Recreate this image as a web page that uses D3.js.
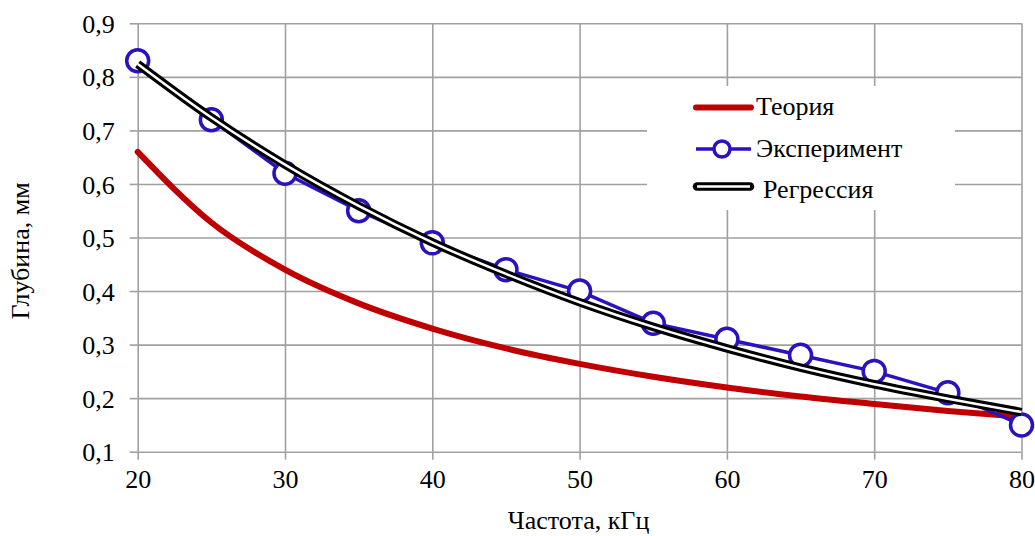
<!DOCTYPE html>
<html>
<head>
<meta charset="utf-8">
<script src="https://cdn.jsdelivr.net/npm/d3@7"></script>
<style>
  html, body { margin: 0; padding: 0; background: #fff; }
  svg { display: block; }
  text { font-family: "Liberation Serif", "Times New Roman", serif; fill: #000; }
</style>
</head>
<body>
<svg id="chart" width="1035" height="536"></svg>
<script>
// Frequency, kHz
const frequency = [20, 25, 30, 35, 40, 45, 50, 55, 60, 65, 70, 75, 80];
// Depth, mm
const theory     = [0.66, 0.528, 0.44, 0.377, 0.33, 0.293, 0.264, 0.24, 0.22, 0.203, 0.189, 0.176, 0.165];
const experiment = [0.83, 0.72, 0.62, 0.55, 0.49, 0.44, 0.40, 0.34, 0.31, 0.28, 0.25, 0.21, 0.15];
const regression = [0.824, 0.724, 0.636, 0.559, 0.491, 0.432, 0.379, 0.333, 0.293, 0.257, 0.226, 0.199, 0.174];

const xTicks = [20, 30, 40, 50, 60, 70, 80];
const yTicks = [0.1, 0.2, 0.3, 0.4, 0.5, 0.6, 0.7, 0.8, 0.9];
const yTickLabels = ["0,1", "0,2", "0,3", "0,4", "0,5", "0,6", "0,7", "0,8", "0,9"];

const seriesNames = ["Теория", "Эксперимент", "Регрессия"];
const xTitle = "Частота, кГц";
const yTitle = "Глубина, мм";

const serif = '"Liberation Serif", "Times New Roman", serif';
const svg = d3.select("#chart");
const plotLeft = 137.7, plotRight = 1021.5, plotTop = 23.3, plotBottom = 451.7;

const x = d3.scaleLinear().domain([20, 80]).range([plotLeft, plotRight]);
const y = d3.scaleLinear().domain([0.1, 0.9]).range([plotBottom, plotTop]);

const gridColor = "#a0a0a0";

// Grid and tick marks
const xAxis = d3.axisBottom(x).tickValues(xTicks).tickSize(-(plotBottom - plotTop)).tickFormat(d => d);
const yAxis = d3.axisLeft(y).tickValues(yTicks).tickSize(-(plotRight - plotLeft))
  .tickFormat((d, i) => yTickLabels[i]);

const gx = svg.append("g").attr("transform", `translate(0,${plotBottom})`).call(xAxis);
const gy = svg.append("g").attr("transform", `translate(${plotLeft},0)`).call(yAxis);

[gx, gy].forEach(g => {
  g.attr("font-family", serif).attr("font-size", 26);
  g.select(".domain").remove();
  g.selectAll(".tick line").attr("stroke", gridColor).attr("stroke-width", 1.6);
  g.selectAll(".tick text").attr("font-family", serif).attr("font-size", 26).attr("fill", "#000");
});
// short outward tick stubs
gx.selectAll(".tick").append("line").attr("y1", 0).attr("y2", 8).attr("stroke", gridColor).attr("stroke-width", 1.6);
gy.selectAll(".tick").append("line").attr("x1", 0).attr("x2", -8).attr("stroke", gridColor).attr("stroke-width", 1.6);
gx.selectAll(".tick text").attr("y", 18).attr("dy", "0.71em");
gy.selectAll(".tick text").attr("x", -23).attr("dy", "0.35em");

// Legend background covers gridlines
svg.append("rect").attr("x", 647).attr("y", 86).attr("width", 308).attr("height", 124).attr("fill", "#fff");

const pts = arr => frequency.map((f, i) => [f, arr[i]]);

// Theory curve
svg.append("path")
  .datum(pts(theory))
  .attr("fill", "none")
  .attr("stroke", "#c00000")
  .attr("stroke-width", 6)
  .attr("stroke-linecap", "round")
  .attr("d", d3.line().x(d => x(d[0])).y(d => y(d[1])).curve(d3.curveMonotoneX));

// Experiment polyline and markers
const blue = "#2a12be";
svg.append("path")
  .datum(pts(experiment))
  .attr("fill", "none")
  .attr("stroke", blue)
  .attr("stroke-width", 3.5)
  .attr("d", d3.line().x(d => x(d[0])).y(d => y(d[1])));

svg.append("g").selectAll("circle")
  .data(pts(experiment))
  .join("circle")
  .attr("cx", d => x(d[0]))
  .attr("cy", d => y(d[1]))
  .attr("r", 11)
  .attr("fill", "#fff")
  .attr("stroke", blue)
  .attr("stroke-width", 3.5);

// Regression curve: black outline with white core
const regLine = d3.line().x(d => x(d[0])).y(d => y(d[1])).curve(d3.curveMonotoneX);
svg.append("path").datum(pts(regression))
  .attr("fill", "none").attr("stroke", "#000").attr("stroke-width", 8.5)
  .attr("d", regLine);
svg.append("path").datum(pts(regression))
  .attr("fill", "none").attr("stroke", "#fff").attr("stroke-width", 2.5)
  .attr("d", regLine);

// Legend
const lg = svg.append("g");
lg.append("line").attr("x1", 696).attr("x2", 751).attr("y1", 107.5).attr("y2", 107.5)
  .attr("stroke", "#c00000").attr("stroke-width", 6).attr("stroke-linecap", "round");
lg.append("line").attr("x1", 696).attr("x2", 751).attr("y1", 149).attr("y2", 149)
  .attr("stroke", blue).attr("stroke-width", 3.5);
lg.append("circle").attr("cx", 722).attr("cy", 149).attr("r", 8)
  .attr("fill", "#fff").attr("stroke", blue).attr("stroke-width", 3.5);
lg.append("line").attr("x1", 697).attr("x2", 750).attr("y1", 186.5).attr("y2", 186.5)
  .attr("stroke", "#000").attr("stroke-width", 8.5).attr("stroke-linecap", "round");
lg.append("line").attr("x1", 697).attr("x2", 750).attr("y1", 186.5).attr("y2", 186.5)
  .attr("stroke", "#fff").attr("stroke-width", 2.5);

const legendText = [[756, 115], [756, 157], [763, 198]];
lg.selectAll("text.lab").data(seriesNames).join("text")
  .attr("class", "lab")
  .attr("x", (d, i) => legendText[i][0])
  .attr("y", (d, i) => legendText[i][1])
  .attr("font-family", serif)
  .attr("font-size", 26)
  .text(d => d);

// Axis titles
svg.append("text")
  .attr("x", (plotLeft + plotRight) / 2 - 1).attr("y", 529)
  .attr("text-anchor", "middle")
  .attr("font-family", serif)
  .attr("font-size", 26)
  .text(xTitle);

svg.append("text")
  .attr("transform", `translate(29,251) rotate(-90)`)
  .attr("text-anchor", "middle")
  .attr("font-family", serif)
  .attr("font-size", 26)
  .text(yTitle);
</script>
</body>
</html>
